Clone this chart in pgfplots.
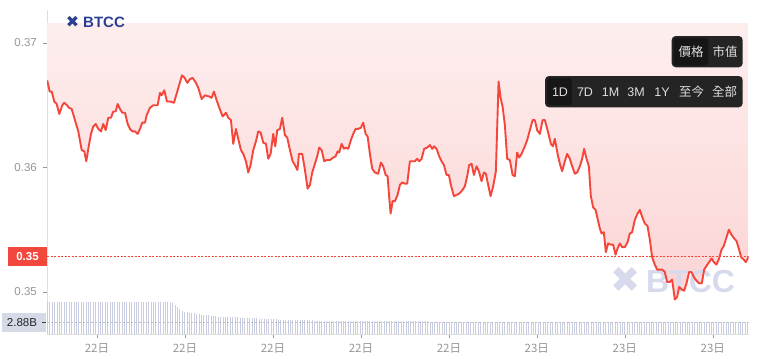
\documentclass[border=0pt]{standalone}
\usepackage{pgfplots}
\pgfplotsset{compat=1.18}
\usepackage{pgfplotstable}
\usepackage{fontspec}
\setmainfont{Liberation Sans}
\newfontfamily\cjk{Noto Sans CJK TC}
\newfontfamily\dejavu{DejaVu Sans}

\definecolor{linered}{RGB}{245,70,60}
\definecolor{pinktop}{RGB}{253,238,238}
\definecolor{pinkbot}{RGB}{252,212,212}
\definecolor{volc}{RGB}{200,205,224}
\definecolor{ticktxt}{RGB}{150,150,150}
\definecolor{axisgray}{RGB}{222,222,222}
\definecolor{btnbg}{RGB}{36,36,36}
\definecolor{btnhi}{RGB}{22,22,22}
\definecolor{btntxt}{RGB}{222,222,222}
\definecolor{logoblue}{RGB}{43,63,146}
\definecolor{wmark}{RGB}{214,218,236}
\definecolor{pricebox}{RGB}{242,71,61}
\definecolor{volbox}{RGB}{213,218,230}

\pgfplotstableread[row sep=\\]{
x y\\
47.2 0.3670\\ 49.7 0.3661\\ 51.7 0.3661\\ 54.3 0.3653\\ 56.7 0.3651\\ 59.3 0.3643\\
62.3 0.3650\\ 64.3 0.3652\\ 67.0 0.3650\\ 69.0 0.3648\\ 71.7 0.3647\\ 75.0 0.3638\\
78.3 0.3629\\ 81.7 0.3614\\ 84.3 0.3613\\ 86.3 0.3605\\ 88.3 0.3615\\ 91.0 0.3627\\
93.3 0.3633\\ 95.7 0.3635\\ 98.3 0.3631\\ 101.0 0.3629\\ 103.3 0.3635\\ 105.7 0.3630\\
108.3 0.3640\\ 111.0 0.3640\\ 113.3 0.3645\\ 115.7 0.3645\\ 117.7 0.3651\\ 120.0 0.3647\\
122.3 0.3644\\ 125.0 0.3644\\ 127.7 0.3635\\ 130.0 0.3631\\ 132.3 0.3629\\ 135.0 0.3629\\
137.7 0.3627\\ 140.0 0.3631\\ 142.3 0.3636\\ 145.0 0.3636\\ 146.7 0.3642\\ 150.0 0.3648\\
153.3 0.3650\\ 157.7 0.3650\\ 160.0 0.3660\\ 161.7 0.3658\\ 164.3 0.3662\\ 167.0 0.3653\\
170.0 0.3653\\ 174.0 0.3652\\ 177.3 0.3661\\ 182.0 0.3674\\ 184.7 0.3672\\ 187.3 0.3668\\
190.0 0.3671\\ 192.7 0.3672\\ 196.0 0.3668\\ 198.3 0.3664\\ 201.7 0.3655\\ 205.0 0.3658\\
209.3 0.3657\\ 211.7 0.3656\\ 214.0 0.3661\\ 216.7 0.3654\\ 219.3 0.3648\\ 222.7 0.3641\\
226.0 0.3644\\ 228.3 0.3640\\ 231.0 0.3638\\ 233.3 0.3619\\ 236.0 0.3631\\ 238.3 0.3623\\
241.0 0.3614\\ 243.3 0.3611\\ 246.0 0.3605\\ 248.3 0.3596\\ 250.7 0.3602\\ 253.3 0.3614\\
256.0 0.3621\\ 258.3 0.3629\\ 260.7 0.3628\\ 263.3 0.3620\\ 266.0 0.3619\\ 268.3 0.3607\\
270.7 0.3611\\ 273.3 0.3627\\ 275.3 0.3617\\ 277.3 0.3630\\ 280.0 0.3631\\ 282.3 0.3640\\
285.0 0.3626\\ 287.3 0.3624\\ 290.0 0.3614\\ 292.7 0.3605\\ 295.0 0.3602\\ 297.5 0.3598\\
299.0 0.3611\\ 302.3 0.3611\\ 305.0 0.3598\\ 307.7 0.3583\\ 310.0 0.3586\\ 312.3 0.3596\\
315.0 0.3603\\ 317.3 0.3609\\ 319.3 0.3616\\ 321.7 0.3614\\ 324.3 0.3605\\ 326.7 0.3606\\
330.0 0.3606\\ 333.3 0.3608\\ 335.7 0.3609\\ 337.7 0.3613\\ 339.3 0.3612\\ 341.7 0.3619\\
344.0 0.3615\\ 345.7 0.3616\\ 348.3 0.3615\\ 351.0 0.3622\\ 353.3 0.3627\\ 355.7 0.3631\\
358.3 0.3631\\ 361.0 0.3632\\ 363.3 0.3636\\ 365.7 0.3627\\ 367.7 0.3625\\ 370.0 0.3611\\
372.3 0.3599\\ 375.0 0.3596\\ 378.3 0.3595\\ 381.0 0.3604\\ 383.3 0.3601\\ 385.7 0.3594\\
387.7 0.3593\\ 389.0 0.3579\\ 390.7 0.3563\\ 392.7 0.3573\\ 395.0 0.3573\\ 397.7 0.3578\\
400.0 0.3586\\ 402.3 0.3588\\ 405.0 0.3587\\ 407.3 0.3587\\ 410.0 0.3605\\ 412.3 0.3605\\
415.0 0.3605\\ 417.3 0.3607\\ 419.3 0.3605\\ 421.7 0.3607\\ 424.3 0.3615\\ 427.3 0.3616\\
430.0 0.3618\\ 432.3 0.3615\\ 434.3 0.3617\\ 436.7 0.3615\\ 439.3 0.3609\\ 441.7 0.3605\\
444.0 0.3602\\ 446.7 0.3594\\ 449.0 0.3594\\ 451.0 0.3586\\ 454.0 0.3577\\ 456.7 0.3578\\
459.3 0.3579\\ 462.7 0.3582\\ 465.0 0.3585\\ 467.3 0.3593\\ 469.3 0.3602\\ 471.7 0.3603\\
474.0 0.3594\\ 476.7 0.3601\\ 479.0 0.3597\\ 481.7 0.3589\\ 484.0 0.3596\\ 486.0 0.3595\\
488.3 0.3586\\ 490.7 0.3577\\ 493.3 0.3585\\ 496.0 0.3597\\ 498.7 0.3669\\ 500.7 0.3656\\
502.7 0.3649\\ 505.0 0.3634\\ 507.3 0.3607\\ 510.0 0.3606\\ 512.7 0.3594\\ 515.0 0.3593\\
517.3 0.3612\\ 519.3 0.3608\\ 521.7 0.3611\\ 525.0 0.3617\\ 527.3 0.3622\\ 530.0 0.3630\\
532.7 0.3638\\ 535.0 0.3638\\ 537.3 0.3630\\ 540.0 0.3627\\ 542.7 0.3638\\ 545.0 0.3638\\
547.7 0.3630\\ 551.0 0.3619\\ 553.0 0.3617\\ 555.0 0.3623\\ 557.7 0.3611\\ 560.0 0.3603\\
562.3 0.3597\\ 565.0 0.3605\\ 567.3 0.3611\\ 570.0 0.3607\\ 572.3 0.3601\\ 575.0 0.3595\\
577.3 0.3596\\ 580.0 0.3601\\ 582.3 0.3607\\ 584.3 0.3615\\ 586.7 0.3607\\ 589.0 0.3601\\
591.0 0.3577\\ 593.3 0.3568\\ 595.7 0.3566\\ 597.7 0.3559\\ 600.0 0.3551\\ 601.7 0.3547\\
604.0 0.3548\\ 606.0 0.3532\\ 608.3 0.3539\\ 611.0 0.3538\\ 613.3 0.3538\\ 615.7 0.3530\\
617.7 0.3535\\ 620.0 0.3539\\ 622.3 0.3536\\ 625.0 0.3536\\ 627.7 0.3540\\ 630.0 0.3547\\
632.3 0.3548\\ 635.0 0.3558\\ 637.7 0.3563\\ 640.0 0.3566\\ 642.5 0.3560\\ 645.0 0.3555\\
647.7 0.3553\\ 650.0 0.3542\\ 652.3 0.3528\\ 655.0 0.3522\\ 657.3 0.3518\\ 660.0 0.3518\\
662.3 0.3518\\ 665.0 0.3516\\ 667.3 0.3508\\ 670.0 0.3508\\ 672.3 0.3510\\ 675.0 0.3494\\
677.3 0.3496\\ 679.3 0.3504\\ 682.0 0.3502\\ 684.3 0.3501\\ 686.7 0.3507\\ 689.3 0.3516\\
691.7 0.3516\\ 694.0 0.3512\\ 696.7 0.3509\\ 699.3 0.3507\\ 702.0 0.3507\\ 704.3 0.3518\\
706.7 0.3521\\ 709.3 0.3524\\ 711.7 0.3527\\ 714.0 0.3524\\ 716.7 0.3522\\ 719.3 0.3527\\
721.7 0.3534\\ 724.0 0.3537\\ 726.7 0.3544\\ 729.0 0.3550\\ 731.7 0.3546\\ 734.3 0.3543\\
736.7 0.3541\\ 739.3 0.3534\\ 741.3 0.3528\\ 744.0 0.3526\\ 746.0 0.3524\\ 748.7 0.3528\\
}\pricedata

% volume per bar (billions), one bar every ~2.4 px
\pgfplotstableread[row sep=\\]{
v\\
7.7\\ 7.7\\ 7.7\\ 7.7\\ 7.7\\ 7.7\\ 7.7\\ 7.7\\ 7.7\\ 7.7\\ 7.7\\ 7.7\\ 7.7\\
7.7\\ 7.7\\ 7.7\\ 7.7\\ 7.7\\ 7.7\\ 7.7\\ 7.7\\ 7.7\\ 7.7\\ 7.7\\ 7.7\\ 7.7\\
7.7\\ 7.7\\ 7.7\\ 7.7\\ 7.7\\ 7.7\\ 7.7\\ 7.7\\ 7.7\\ 7.7\\ 7.7\\ 7.7\\ 7.7\\
7.7\\ 7.7\\ 7.7\\ 7.7\\ 7.7\\ 7.7\\ 7.7\\ 7.7\\ 7.7\\ 7.7\\ 7.7\\ 7.7\\ 7.7\\
7.5\\ 7.0\\ 6.4\\ 5.9\\ 5.5\\ 5.3\\ 5.2\\
5.1\\ 5.0\\ 5.0\\ 4.9\\ 4.8\\ 4.7\\ 4.6\\ 4.6\\ 4.5\\ 4.4\\ 4.3\\ 4.3\\ 4.2\\
4.2\\ 4.2\\ 4.1\\ 4.1\\ 4.1\\ 4.0\\ 4.0\\ 4.0\\ 3.9\\ 3.9\\ 3.9\\ 3.9\\
3.8\\ 3.8\\ 3.8\\ 3.8\\ 3.7\\ 3.7\\ 3.7\\ 3.7\\ 3.6\\ 3.6\\ 3.6\\
3.6\\ 3.5\\ 3.5\\ 3.5\\ 3.5\\ 3.4\\ 3.4\\ 3.4\\ 3.4\\ 3.4\\ 3.3\\ 3.3\\
3.3\\ 3.3\\ 3.3\\ 3.3\\ 3.2\\ 3.2\\ 3.2\\ 3.2\\ 3.2\\ 3.2\\ 3.2\\ 3.2\\
3.1\\ 3.1\\ 3.1\\ 3.1\\ 3.1\\ 3.1\\ 3.1\\ 3.1\\ 3.1\\ 3.1\\
3.1\\ 3.1\\ 3.1\\ 3.1\\ 3.1\\ 3.1\\ 3.1\\ 3.1\\ 3.1\\ 3.1\\
3.1\\ 3.1\\ 3.1\\ 3.1\\ 3.1\\ 3.1\\ 3.1\\ 3.1\\ 3.1\\ 3.1\\
3.1\\ 3.1\\ 3.1\\ 3.1\\ 3.1\\ 3.1\\ 3.1\\ 3.1\\ 3.1\\ 3.1\\
3.0\\ 3.0\\ 3.0\\ 3.0\\ 3.0\\ 3.0\\ 3.0\\ 3.0\\ 3.0\\ 3.0\\
3.0\\ 3.0\\ 3.0\\ 3.0\\ 3.0\\ 3.0\\ 3.0\\ 3.0\\ 3.0\\ 3.0\\
3.0\\ 3.0\\ 3.0\\ 3.0\\ 3.0\\ 3.0\\ 3.0\\ 3.0\\ 3.0\\ 3.0\\
3.0\\ 3.0\\ 3.0\\ 3.0\\ 3.0\\ 3.0\\ 3.0\\ 3.0\\ 3.0\\ 3.0\\
3.0\\ 3.0\\ 3.0\\ 3.0\\ 3.0\\ 3.0\\ 3.0\\ 3.0\\ 3.0\\ 3.0\\
2.95\\ 2.95\\ 2.95\\ 2.95\\ 2.95\\ 2.95\\ 2.95\\ 2.95\\ 2.95\\ 2.95\\
2.95\\ 2.95\\ 2.95\\ 2.95\\ 2.95\\ 2.95\\ 2.95\\ 2.95\\ 2.95\\ 2.95\\
2.95\\ 2.95\\ 2.95\\ 2.95\\ 2.95\\ 2.95\\ 2.95\\ 2.95\\ 2.95\\ 2.95\\
2.95\\ 2.95\\ 2.95\\ 2.95\\ 2.95\\ 2.95\\ 2.95\\ 2.95\\ 2.95\\ 2.95\\
2.95\\ 2.95\\ 2.95\\ 2.95\\ 2.95\\ 2.95\\ 2.95\\ 2.95\\ 2.95\\ 2.95\\
2.9\\ 2.9\\ 2.9\\ 2.9\\ 2.9\\ 2.9\\ 2.9\\ 2.9\\ 2.9\\ 2.9\\ 2.9\\
2.9\\ 2.9\\ 2.9\\ 2.9\\ 2.9\\ 2.9\\ 2.9\\ 2.9\\ 2.9\\ 2.9\\ 2.9\\
2.9\\ 2.9\\ 2.9\\ 2.9\\ 2.9\\ 2.9\\ 2.9\\ 2.9\\ 2.9\\ 2.9\\ 2.88\\
}\voldata

\pgfplotsset{
  samegeom/.style={scale only axis, width=701.5bp, height=324.3bp,
    at={(47bp,-334.3bp)}, anchor=south west},
  priceax/.style={samegeom, xmin=47, xmax=748.7, ymin=0.346602, ymax=0.372651},
}

\begin{document}
\begin{tikzpicture}
\useasboundingbox (0,0) rectangle (761bp,-364bp);

% axis with ticks and the pink area above the price line
\begin{axis}[priceax,
  axis x line*=bottom, axis y line*=left,
  axis line style={-, draw=axisgray, line width=0.8bp},
  xtick={97,185,273,361,449,537,625,713},
  xticklabels={{\cjk 22日},{\cjk 22日},{\cjk 22日},{\cjk 22日},{\cjk 22日},{\cjk 23日},{\cjk 23日},{\cjk 23日}},
  ytick={0.35,0.36,0.37}, yticklabels={0.35,0.36,0.37},
  tick style={draw=ticktxt, line width=0.6bp},
  major tick length=4bp, tick align=outside,
  ticklabel style={font=\fontsize{11.5bp}{13bp}\selectfont, text=ticktxt},
  yticklabel style={inner sep=0pt, xshift=-6bp},
  xticklabel style={inner sep=0pt, yshift=-5bp},
]
\addplot[draw=none, top color=pinktop, bottom color=pinkbot]
  table[x=x, y=y] {\pricedata}
  -- (axis cs:748.7,0.3716) -- (axis cs:47.2,0.3716) -- cycle;
\end{axis}

% watermark
\begin{scope}[x=1bp, y=-1bp]
\node[text=wmark, font=\dejavu\fontsize{36bp}{36bp}\selectfont, inner sep=0] at (626,280) {✖};
\node[anchor=base west, text=wmark, font=\bfseries\fontsize{32bp}{32bp}\selectfont, inner sep=0] at (646,292) {BTCC};
\end{scope}

% volume bars
\begin{axis}[samegeom, hide axis, xmin=-0.21, xmax=291.37, ymin=0, ymax=77]
\addplot[ycomb, volc, line width=0.9bp, mark=none] table[x expr=\coordindex, y=v] {\voldata};
\addplot[volc!80!gray, dash pattern=on 2bp off 2bp, line width=0.6bp] coordinates {(-0.21,2.88) (291.37,2.88)};
\end{axis}

% price line and current price
\begin{axis}[priceax, hide axis]
\addplot[linered, dash pattern=on 2bp off 1.5bp, line width=0.8bp] coordinates {(47,0.35289) (748.7,0.35289)};
\addplot[linered, line width=1.9bp, line join=round, mark=none] table[x=x, y=y] {\pricedata};
\end{axis}

\begin{scope}[x=1bp, y=-1bp]
% logo
\node[text=logoblue, font=\dejavu\fontsize{16bp}{16bp}\selectfont, inner sep=0] at (72.5,22) {✖};
\node[anchor=base west, text=logoblue, font=\bfseries\fontsize{15bp}{15bp}\selectfont, inner sep=0] at (83,27.5) {BTCC};
% buttons
\fill[btnbg, rounded corners=4bp] (671.7,36) rectangle (742.7,67.3);
\fill[btnhi, rounded corners=3bp] (673.5,38) rectangle (708.3,65.5);
\node[text=btntxt, font=\cjk\fontsize{12.5bp}{13bp}\selectfont] at (691,52) {價格};
\node[text=btntxt, font=\cjk\fontsize{12.5bp}{13bp}\selectfont] at (725,52) {市值};
\fill[btnbg, rounded corners=4bp] (545,76) rectangle (742.7,107.3);
\fill[btnhi, rounded corners=3bp] (547,78) rectangle (572,105.3);
\foreach \xx/\tt in {560/1D,585/7D,610.5/1M,636/3M,662/1Y} {
  \node[text=btntxt, font=\fontsize{12.5bp}{13bp}\selectfont] at (\xx,91.7) {\tt};
}
\node[text=btntxt, font=\cjk\fontsize{12.5bp}{13bp}\selectfont] at (691.5,91.7) {至今};
\node[text=btntxt, font=\cjk\fontsize{12.5bp}{13bp}\selectfont] at (724.5,91.7) {全部};
% current price box
\fill[pricebox] (8.3,246.7) rectangle (46.7,265.7);
\node[text=white, font=\bfseries\fontsize{11.5bp}{13bp}\selectfont] at (27.5,256.2) {0.35};
% volume box
\fill[volbox] (1.7,312.7) rectangle (46,331.7);
\node[text=black!85, font=\fontsize{11.5bp}{13bp}\selectfont] at (22,322.2) {2.88B};
\draw[black!75, line width=0.8bp] (42,322.3) -- (46,322.3);
\end{scope}
\end{tikzpicture}
\end{document}
